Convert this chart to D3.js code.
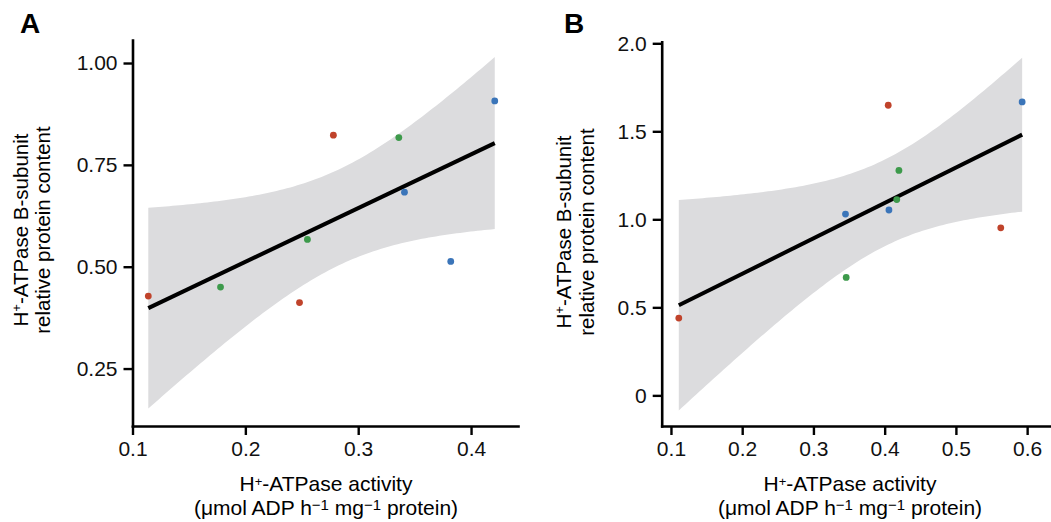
<!DOCTYPE html>
<html>
<head>
<meta charset="utf-8">
<script src="https://cdn.jsdelivr.net/npm/d3@7"></script>
<style>
  body { margin: 0; background: #fff; }
  svg { display: block; font-family: "Liberation Sans", Arial, sans-serif; }
</style>
</head>
<body>
<svg id="chart" width="1051" height="522"></svg>
<script>
// panel A values
const activityA = [0.114, 0.178, 0.248, 0.255, 0.278, 0.336, 0.341, 0.382, 0.421];
const contentA  = [0.428, 0.450, 0.412, 0.567, 0.823, 0.817, 0.683, 0.513, 0.907];
const groupA    = ["r", "g", "r", "g", "r", "g", "b", "b", "b"];
const xTicksA = [0.1, 0.2, 0.3, 0.4];
const yTicksA = [0.25, 0.50, 0.75, 1.00];

// panel B
const activityB = [0.111, 0.346, 0.345, 0.406, 0.405, 0.417, 0.420, 0.563, 0.593];
const contentB  = [0.439, 0.670, 1.030, 1.053, 1.648, 1.112, 1.278, 0.952, 1.667];
const groupB    = ["r", "g", "b", "b", "r", "g", "g", "r", "b"];
const xTicksB = [0.1, 0.2, 0.3, 0.4, 0.5, 0.6];
const yTicksB = [0, 0.5, 1.0, 1.5, 2.0];

const groupColor = {r: "#c0432b", g: "#3d9a4b", b: "#3b75b9"};
const tCrit = 2.365; // t(0.975, df = 7)

const svg = d3.select("#chart");

// least squares fit with 95% confidence band, like geom_smooth(method = "lm")
function fit(xs, ys) {
    let n = xs.length;
    let mx = d3.mean(xs), my = d3.mean(ys);
    let sxx = d3.sum(xs, x => (x - mx) * (x - mx));
    let sxy = d3.sum(xs, (x, i) => (x - mx) * (ys[i] - my));
    let slope = sxy / sxx;
    let icept = my - slope * mx;
    let sse = d3.sum(xs, (x, i) => Math.pow(ys[i] - (icept + slope * x), 2));
    let s = Math.sqrt(sse / (n - 2));
    let pred = x => icept + slope * x;
    let half = x => tCrit * s * Math.sqrt(1 / n + (x - mx) * (x - mx) / sxx);
    return {pred, half};
}

function panel(opt) {
    let g = svg.append("g");
    let x = d3.scaleLinear().domain(opt.xDomain).range(opt.xRange);
    let y = d3.scaleLinear().domain(opt.yDomain).range(opt.yRange);

    let m = fit(opt.xs, opt.ys);
    let lo = d3.min(opt.xs), hi = d3.max(opt.xs);
    let grid = d3.range(0, 101).map(i => lo + (hi - lo) * i / 100);

    g.append("path")
        .datum(grid)
        .attr("fill", "#dcdcde")
        .attr("d", d3.area()
            .x(d => x(d))
            .y0(d => y(m.pred(d) - m.half(d)))
            .y1(d => y(m.pred(d) + m.half(d))));

    g.append("line")
        .attr("x1", x(lo)).attr("y1", y(m.pred(lo)))
        .attr("x2", x(hi)).attr("y2", y(m.pred(hi)))
        .attr("stroke", "#000").attr("stroke-width", 4);

    g.selectAll("circle.pt")
        .data(opt.xs.map((v, i) => ({x: v, y: opt.ys[i], grp: opt.groups[i]})))
        .join("circle")
        .attr("class", "pt")
        .attr("cx", d => x(d.x))
        .attr("cy", d => y(d.y))
        .attr("r", 3.4)
        .attr("fill", d => groupColor[d.grp]);

    let xAxis = g.append("g")
        .attr("transform", `translate(0,${opt.yRange[0]})`)
        .call(d3.axisBottom(x).tickValues(opt.xTicks).tickFormat(d3.format(".1f"))
            .tickSize(9).tickSizeOuter(0).tickPadding(6));
    let yAxis = g.append("g")
        .attr("transform", `translate(${opt.xRange[0]},0)`)
        .call(d3.axisLeft(y).tickValues(opt.yTicks).tickFormat(opt.yFormat)
            .tickSize(9).tickSizeOuter(0).tickPadding(6));
    [xAxis, yAxis].forEach(a => {
        a.selectAll("path.domain").attr("stroke-width", 2.6).attr("stroke-linecap", "square");
        a.selectAll(".tick line").attr("stroke-width", 2.4);
        a.selectAll(".tick text").attr("font-size", 21).attr("font-family", null).attr("fill", "#111");
    });

    // panel letter
    g.append("text")
        .attr("x", opt.letterX).attr("y", 33)
        .attr("font-size", 28).attr("font-weight", "bold")
        .text(opt.letter);

    // y title, two lines
    let yt = g.append("g").attr("font-size", 20.5).attr("text-anchor", "middle");
    let t1 = yt.append("text")
        .attr("transform", `translate(${opt.yTitleX[0]},${opt.yTitleY}) rotate(-90)`);
    t1.append("tspan").text("H");
    t1.append("tspan").attr("font-size", 13).attr("dy", -7).text("+");
    t1.append("tspan").attr("dy", 7).text("-ATPase B-subunit");
    yt.append("text")
        .attr("transform", `translate(${opt.yTitleX[1]},${opt.yTitleY}) rotate(-90)`)
        .text("relative protein content");

    // x title, two lines
    let xt = g.append("g").attr("font-size", 21).attr("text-anchor", "middle");
    let l1 = xt.append("text").attr("x", opt.xTitleX).attr("y", 491);
    l1.append("tspan").text("H");
    l1.append("tspan").attr("font-size", 13).attr("dy", -5).text("+");
    l1.append("tspan").attr("dy", 5).text("-ATPase activity");
    let l2 = xt.append("text").attr("x", opt.xTitleX).attr("y", 515);
    l2.append("tspan").text("(\u03bcmol ADP h");
    l2.append("tspan").attr("font-size", 15).attr("dy", -5).text("\u22121");
    l2.append("tspan").attr("dy", 5).text(" mg");
    l2.append("tspan").attr("font-size", 15).attr("dy", -5).text("\u22121");
    l2.append("tspan").attr("dy", 5).text(" protein)");
}

panel({
    letter: "A", letterX: 20,
    xs: activityA, ys: contentA, groups: groupA,
    xDomain: [0.1, 0.4416], xRange: [132.5, 518],
    yDomain: [0.109, 1.0565], yRange: [426, 40],
    xTicks: xTicksA, yTicks: yTicksA, yFormat: d3.format(".2f"),
    yTitleX: [28, 50], yTitleY: 230, xTitleX: 326
});

panel({
    letter: "B", letterX: 564,
    xs: activityB, ys: contentB, groups: groupB,
    xDomain: [0.087, 0.6335], xRange: [661.7, 1051],
    yDomain: [-0.174, 2.009], yRange: [426, 41.7],
    xTicks: xTicksB, yTicks: yTicksB, yFormat: d => d === 0 ? "0" : d3.format(".1f")(d),
    yTitleX: [571, 594], yTitleY: 232, xTitleX: 850
});
</script>
</body>
</html>
